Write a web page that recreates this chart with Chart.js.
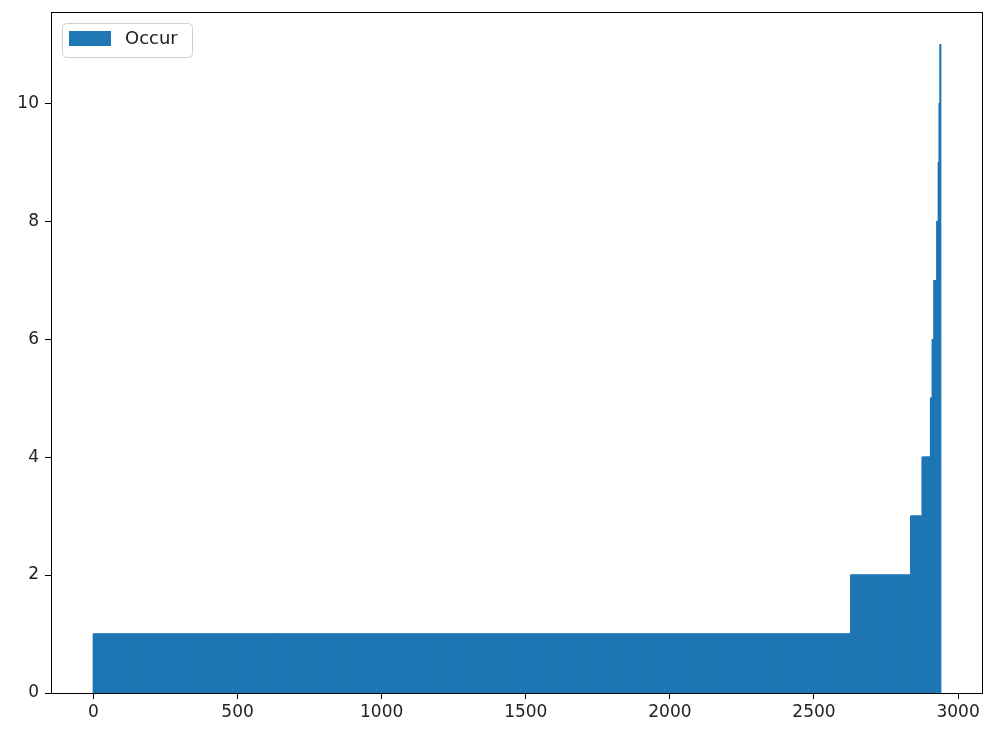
<!DOCTYPE html>
<html>
<head>
<meta charset="utf-8">
<script src="https://cdn.jsdelivr.net/npm/chart.js@4"></script>
<style>
  body { margin: 0; background: #fff; }
</style>
</head>
<body>
<canvas id="occur-chart" width="988" height="729"></canvas>
<script>
// sorted occurrence counts, stored as run lengths: value -> how many items
let occurValues = [1, 2, 3, 4, 5, 6, 7, 8, 9, 10, 11];
let occurCounts = [2628, 208, 40, 29, 6, 6, 10, 5, 3, 3, 2];
let xTicks = [0, 500, 1000, 1500, 2000, 2500, 3000];
let yTicks = [0, 2, 4, 6, 8, 10];
let seriesLabel = "Occur";

let points = [];
occurValues.forEach((v, k) => {
  for (let n = 0; n < occurCounts[k]; n++) {
    points.push({ x: points.length, y: v });
  }
});

let barColor = "#1f77b4";
let tickFont = { family: "DejaVu Sans", size: 17 };

// black box round the plot, like matplotlib spines
let frame = {
  id: "frame",
  afterDatasetsDraw(chart) {
    let a = chart.chartArea;
    let ctx = chart.ctx;
    ctx.save();
    ctx.strokeStyle = "#000";
    ctx.lineWidth = 1;
    ctx.strokeRect(a.left + 0.5, a.top + 0.5, a.right - a.left - 1, a.bottom - a.top);
    ctx.restore();
  },
};

// legend drawn inside the plot, upper left
let innerLegend = {
  id: "innerLegend",
  afterDraw(chart) {
    let a = chart.chartArea;
    let ctx = chart.ctx;
    let ds = chart.data.datasets[0];
    let x = a.left + 11, y = a.top + 11, w = 130, h = 34, r = 4;
    ctx.save();
    ctx.beginPath();
    ctx.roundRect(x + 0.5, y + 0.5, w, h, r);
    ctx.fillStyle = "rgba(255,255,255,0.8)";
    ctx.fill();
    ctx.strokeStyle = "#d0d0d0";
    ctx.lineWidth = 1;
    ctx.stroke();
    ctx.fillStyle = ds.backgroundColor;
    ctx.fillRect(x + 7, y + 8, 42, 15);
    ctx.fillStyle = "#222";
    ctx.font = "18px 'DejaVu Sans'";
    ctx.textBaseline = "middle";
    ctx.fillText(ds.label, x + 63, y + 16);
    ctx.restore();
  },
};

new Chart(document.getElementById("occur-chart"), {
  type: "bar",
  data: {
    datasets: [
      {
        label: seriesLabel,
        data: points,
        backgroundColor: barColor,
        borderWidth: 0,
        barThickness: 1,
      },
    ],
  },
  options: {
    responsive: false,
    animation: false,
    layout: { padding: { top: 12, right: 5, left: 0, bottom: 0 } },
    plugins: {
      legend: { display: false },
      tooltip: { enabled: false },
    },
    scales: {
      x: {
        type: "linear",
        offset: false,
        min: -147.4,
        max: 3086.4,
        afterBuildTicks: (s) => { s.ticks = xTicks.map((v) => ({ value: v })); },
        afterFit: (s) => { s.height = 36; s.paddingLeft = 0; s.paddingRight = 0; },
        grid: { display: true, offset: false, drawOnChartArea: false, drawTicks: true, tickLength: 6, color: "#000" },
        border: { display: false },
        ticks: { font: tickFont, color: "#222", padding: 3, maxRotation: 0, callback: (v) => String(v) },
      },
      y: {
        min: 0,
        max: 11.55,
        afterBuildTicks: (s) => { s.ticks = yTicks.map((v) => ({ value: v })); },
        afterFit: (s) => { s.width = 51; s.paddingTop = 0; s.paddingBottom = 0; },
        grid: { display: true, offset: false, drawOnChartArea: false, drawTicks: true, tickLength: 6, color: "#000" },
        border: { display: false },
        ticks: { font: tickFont, color: "#222", padding: 6, callback: (v) => String(v) },
      },
    },
  },
  plugins: [frame, innerLegend],
});
</script>
</body>
</html>
